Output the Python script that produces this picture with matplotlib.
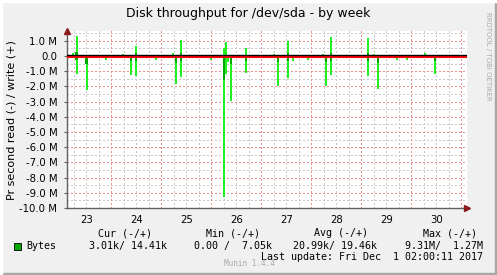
import numpy as np
import matplotlib
matplotlib.use("Agg")
import matplotlib.pyplot as plt
from matplotlib.patches import Rectangle
from matplotlib.transforms import offset_copy

# time in days since Nov 23 00:00, values in M (bytes per second)
peak_t = [0.239, 0.303, 0.507, 0.899, 1.239, 1.279, 1.393, 1.493, 1.887, 2.239,
          2.293, 2.393, 2.993, 3.26, 3.30, 3.34, 3.393, 3.693, 4.247, 4.273,
          4.333, 4.533, 4.633, 4.939, 5.233, 5.293, 5.393, 6.133, 6.253, 6.333,
          6.719, 6.919, 7.273, 7.473]
peak_write = [0.2, 1.3, 0.0, 0.0, 0.12, 0.0, 0.0, 0.65, 0.0, 0.2,
              0.0, 1.05, 0.0, 0.5, 0.95, 0.0, 0.0, 0.5, 0.12, 0.0,
              0.0, 1.0, 0.0, 0.0, 0.12, 0.0, 1.25, 1.2, 0.12, 0.0,
              0.0, 0.0, 0.2, 0.0]
peak_read = [0.0, -1.2, -2.25, -0.25, -0.05, -0.15, -1.23, -1.3, -0.25, 0.0,
             -1.85, -1.35, -0.25, -9.3, -1.15, -0.4, -2.95, -1.1, 0.0, -0.15,
             -2.0, -1.45, -0.3, -0.25, 0.0, -2.0, -1.25, -1.3, -0.1, -2.15,
             -0.25, -0.25, -0.15, -1.2]

avg_t = [0.303, 0.507, 1.393, 1.493, 2.293, 2.393, 3.255, 3.393, 3.693, 4.333,
         4.533, 5.293, 5.393, 6.133, 6.333, 7.473]
avg_write = [0.26, 0.0, 0.0, 0.2, 0.0, 0.2, 0.1, 0.0, 0.1, 0.0,
             0.2, 0.0, 0.2, 0.2, 0.0, 0.0]
avg_read = [-0.24, -0.5, -0.3, -0.3, -0.45, -0.3, -1.6, -0.55, -0.3, -0.37,
            -0.3, -0.37, -0.3, -0.3, -0.45, -0.3]

day_labels = ["23", "24", "25", "26", "27", "28", "29", "30"]
y_ticks = list(range(-10, 2))
y_labels = ["%.1f M" % v if v != 0 else "0.0" for v in y_ticks]

W, H = 497, 275
fig = plt.figure(figsize=(W / 100, H / 100), dpi=100)
fig.patch.set_facecolor("#f0f0f0")

# 3d-ish frame
fig.patches.append(Rectangle((0, 0), 1, 2 / H, transform=fig.transFigure, color="#a8a8a8", zorder=0))
fig.patches.append(Rectangle((1 - 2 / W, 0), 2 / W, 1, transform=fig.transFigure, color="#a8a8a8", zorder=0))
fig.patches.append(Rectangle((0, 1 - 2 / H), 1, 2 / H, transform=fig.transFigure, color="#ffffff", zorder=0))
fig.patches.append(Rectangle((0, 0), 2 / W, 1, transform=fig.transFigure, color="#ffffff", zorder=0))

left, right, top, bottom = 67, 467, 31, 208
ax = fig.add_axes([left / W, 1 - bottom / H, (right - left) / W, (bottom - top) / H])
ax.set_facecolor("white")
ax.set_xlim(0.113, 8.113)
ax.set_ylim(-10.0, 1.65)

# grid
minor_x = np.arange(0.25, 8.1, 0.25)
major_x = np.arange(1, 9)
minor_y = np.arange(-9.5, 1.6, 1.0)
dots = (0, (1.4, 2.8))
for x in minor_x:
    ax.axvline(x, color="#c8c8c8", lw=0.72, ls=dots, antialiased=False, zorder=1)
for y in minor_y:
    ax.axhline(y, color="#c8c8c8", lw=0.72, ls=dots, antialiased=False, zorder=1)
for x in major_x:
    ax.axvline(x, color="#ee9090", lw=0.72, ls=dots, antialiased=False, zorder=1.5)
for y in y_ticks:
    ax.axhline(y, color="#ee9090", lw=0.72, ls=dots, antialiased=False, zorder=1.5)

# data
ax.vlines(peak_t, peak_read, peak_write, color="#22f022", lw=1.2, antialiased=False, zorder=3)
ax.bar(avg_t, np.array(avg_write) - np.array(avg_read), bottom=avg_read,
       width=0.05, color="#00a800", zorder=4, linewidth=0, antialiased=False)

# zero line: red with black on top
red_tr = offset_copy(ax.transData, fig=fig, x=0, y=-0.8, units="dots")
blk_tr = offset_copy(ax.transData, fig=fig, x=0, y=0.8, units="dots")
ax.plot([0.113, 8.113], [0, 0], color="#ff0000", lw=1.5, transform=red_tr, zorder=5)
ax.plot([0.113, 8.113], [0, 0], color="black", lw=1.0, transform=blk_tr, zorder=6)

# axes
for s in ["top", "right"]:
    ax.spines[s].set_visible(False)
ax.spines["left"].set_color("#606060")
ax.spines["bottom"].set_color("#606060")
ax.spines["left"].set_linewidth(1)
ax.spines["bottom"].set_linewidth(1)
ax.plot([0], [1.0], marker="^", color="#8b1a1a", markersize=5, transform=ax.transAxes, clip_on=False, zorder=7)
ax.plot([1.0], [0], marker=">", color="#8b1a1a", markersize=5, transform=ax.transAxes, clip_on=False, zorder=7)

ax.set_xticks(np.arange(0.5, 8, 1.0))
ax.set_xticklabels(day_labels, fontsize=7.3)
ax.set_yticks(y_ticks)
ax.set_yticklabels(y_labels, fontsize=7.3)
ax.tick_params(axis="x", length=0, pad=5)
ax.tick_params(axis="y", length=2, color="#606060", pad=5)

fig.text(248.5 / W, 1 - 14 / H, "Disk throughput for /dev/sda - by week", ha="center", va="center", fontsize=9)
fig.text(12 / W, 1 - 120 / H, "Pr second read (-) / write (+)", rotation=90, ha="center", va="center", fontsize=8)
fig.text(488 / W, 1 - 56 / H, "RRDTOOL / TOBI OETIKER", rotation=270, ha="center", va="center", fontsize=5, color="#aaaaaa")

mono = "DejaVu Sans Mono"
fs = 7.2
fig.text(125 / W, 1 - 233 / H, "Cur (-/+)", ha="center", va="center", fontsize=fs, family=mono)
fig.text(233 / W, 1 - 233 / H, "Min (-/+)", ha="center", va="center", fontsize=fs, family=mono)
fig.text(341.5 / W, 1 - 233 / H, "Avg (-/+)", ha="center", va="center", fontsize=fs, family=mono)
fig.text(449.7 / W, 1 - 233 / H, "Max (-/+)", ha="center", va="center", fontsize=fs, family=mono)

fig.patches.append(Rectangle((13.5 / W, 1 - 249.5 / H), 7 / W, 7 / H, transform=fig.transFigure,
                             facecolor="#00a800", edgecolor="black", lw=0.6))
fig.text(26.7 / W, 1 - 246 / H, "Bytes", ha="left", va="center", fontsize=fs, family=mono)
fig.text(89.3 / W, 1 - 246 / H, "3.01k/ 14.41k", ha="left", va="center", fontsize=fs, family=mono)
fig.text(194.3 / W, 1 - 246 / H, "0.00 /  7.05k", ha="left", va="center", fontsize=fs, family=mono)
fig.text(293.3 / W, 1 - 246 / H, "20.99k/ 19.46k", ha="left", va="center", fontsize=fs, family=mono)
fig.text(405 / W, 1 - 246 / H, "9.31M/  1.27M", ha="left", va="center", fontsize=fs, family=mono)
fig.text(482.7 / W, 1 - 257.5 / H, "Last update: Fri Dec  1 02:00:11 2017", ha="right", va="center", fontsize=fs, family=mono)
fig.text(224.3 / W, 1 - 264 / H, "Munin 1.4.4", ha="left", va="center", fontsize=5.5, color="#aaaaaa", family=mono)

fig.savefig("out.png", dpi=100, facecolor=fig.get_facecolor())
